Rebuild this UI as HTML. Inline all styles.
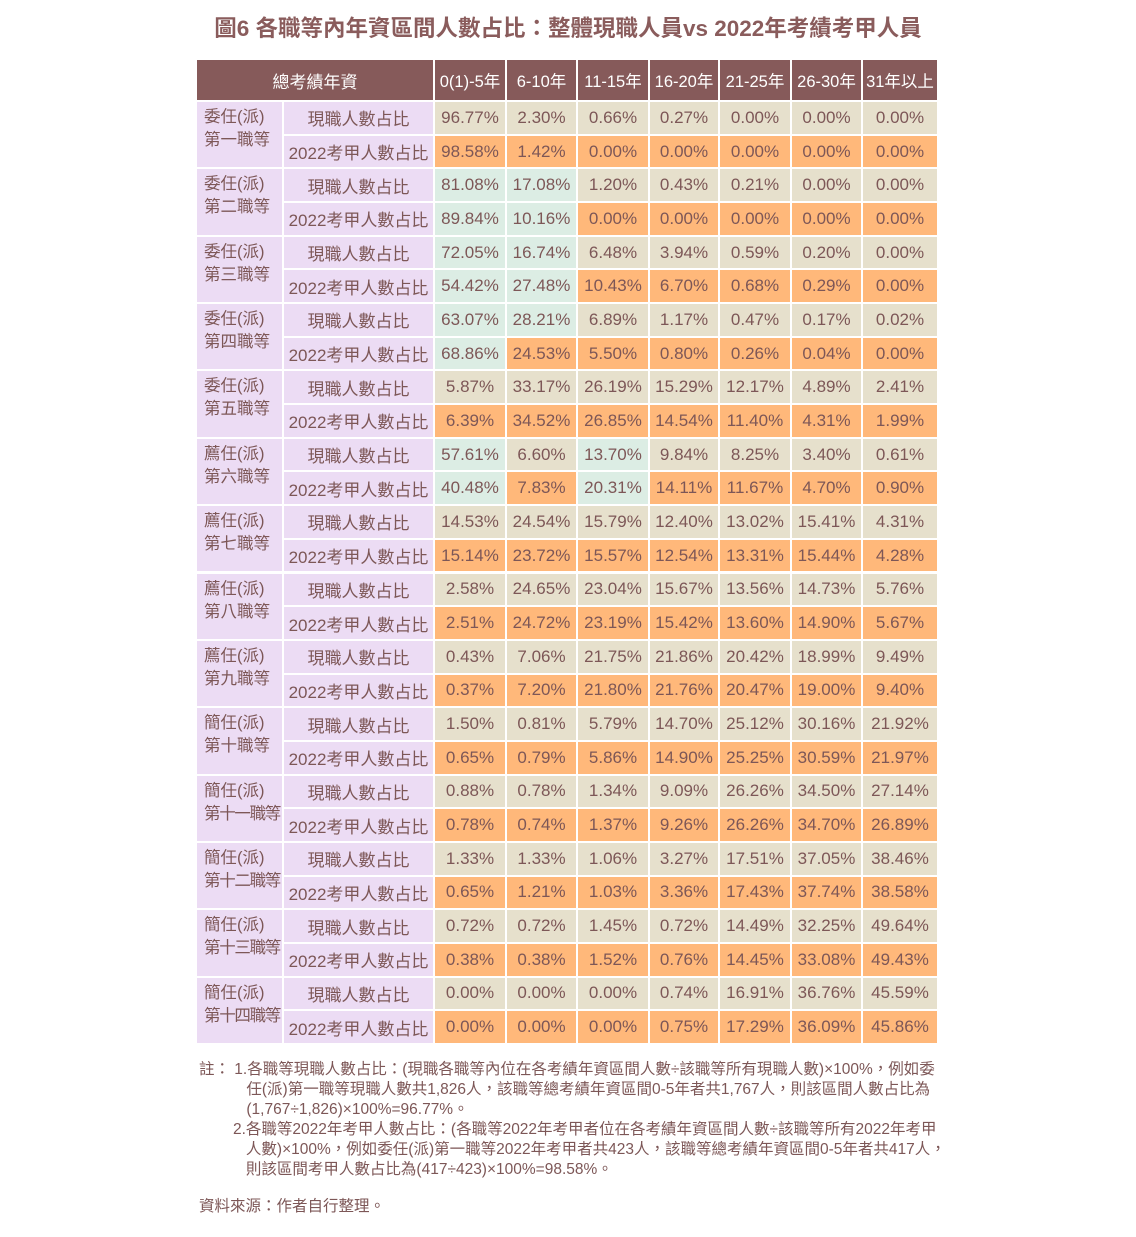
<!DOCTYPE html>
<html><head><meta charset="utf-8">
<style>
body{margin:0;width:1136px;height:1237px;background:#fff;position:relative;font-family:"Liberation Sans","Noto Sans CJK TC",sans-serif;color:#7d5757;overflow:hidden}
.c{position:absolute;box-sizing:border-box;display:flex;align-items:center;justify-content:center;font-size:17px;white-space:nowrap}
.g{display:block !important;overflow:hidden}
#title{position:absolute;left:0;width:1136px;top:11px;text-align:center;font-size:22.5px;font-weight:bold;color:#8a5c5c}
.note{position:absolute;font-size:15.5px;line-height:20px;white-space:nowrap;color:#7d5757}
</style></head><body>
<div id="title">圖6 各職等內年資區間人數占比：整體現職人員vs 2022年考績考甲人員</div>
<div id="tbl"></div>
<div class="note" style="left:199px;top:1060px">註：&nbsp;1.各職等現職人數占比：(現職各職等內位在各考績年資區間人數÷該職等所有現職人數)×100%，例如委<br>&nbsp;&nbsp;&nbsp;&nbsp;&nbsp;&nbsp;&nbsp;&nbsp;&nbsp;&nbsp;&nbsp;任(派)第一職等現職人數共1,826人，該職等總考績年資區間0-5年者共1,767人，則該區間人數占比為<br>&nbsp;&nbsp;&nbsp;&nbsp;&nbsp;&nbsp;&nbsp;&nbsp;&nbsp;&nbsp;&nbsp;(1,767÷1,826)×100%=96.77%。</div>
<div class="note" style="left:233px;top:1120px">2.各職等2022年考甲人數占比：(各職等2022年考甲者位在各考績年資區間人數÷該職等所有2022年考甲<br>&nbsp;&nbsp;&nbsp;人數)×100%，例如委任(派)第一職等2022年考甲者共423人，該職等總考績年資區間0-5年者共417人，<br>&nbsp;&nbsp;&nbsp;則該區間考甲人數占比為(417÷423)×100%=98.58%。</div>
<div class="note" style="left:199px;top:1197px">資料來源：作者自行整理。</div>
<script>
const headers=["0(1)-5年","6-10年","11-15年","16-20年","21-25年","26-30年","31年以上"];
const groups=[["委任(派)","第一職等"],["委任(派)","第二職等"],["委任(派)","第三職等"],["委任(派)","第四職等"],["委任(派)","第五職等"],["薦任(派)","第六職等"],["薦任(派)","第七職等"],["薦任(派)","第八職等"],["薦任(派)","第九職等"],["簡任(派)","第十職等"],["簡任(派)","第十一職等"],["簡任(派)","第十二職等"],["簡任(派)","第十三職等"],["簡任(派)","第十四職等"]];
const currentVals=[
[96.77,2.30,0.66,0.27,0.00,0.00,0.00],
[81.08,17.08,1.20,0.43,0.21,0.00,0.00],
[72.05,16.74,6.48,3.94,0.59,0.20,0.00],
[63.07,28.21,6.89,1.17,0.47,0.17,0.02],
[5.87,33.17,26.19,15.29,12.17,4.89,2.41],
[57.61,6.60,13.70,9.84,8.25,3.40,0.61],
[14.53,24.54,15.79,12.40,13.02,15.41,4.31],
[2.58,24.65,23.04,15.67,13.56,14.73,5.76],
[0.43,7.06,21.75,21.86,20.42,18.99,9.49],
[1.50,0.81,5.79,14.70,25.12,30.16,21.92],
[0.88,0.78,1.34,9.09,26.26,34.50,27.14],
[1.33,1.33,1.06,3.27,17.51,37.05,38.46],
[0.72,0.72,1.45,0.72,14.49,32.25,49.64],
[0.00,0.00,0.00,0.74,16.91,36.76,45.59]];
const examVals=[
[98.58,1.42,0.00,0.00,0.00,0.00,0.00],
[89.84,10.16,0.00,0.00,0.00,0.00,0.00],
[54.42,27.48,10.43,6.70,0.68,0.29,0.00],
[68.86,24.53,5.50,0.80,0.26,0.04,0.00],
[6.39,34.52,26.85,14.54,11.40,4.31,1.99],
[40.48,7.83,20.31,14.11,11.67,4.70,0.90],
[15.14,23.72,15.57,12.54,13.31,15.44,4.28],
[2.51,24.72,23.19,15.42,13.60,14.90,5.67],
[0.37,7.20,21.80,21.76,20.47,19.00,9.40],
[0.65,0.79,5.86,14.90,25.25,30.59,21.97],
[0.78,0.74,1.37,9.26,26.26,34.70,26.89],
[0.65,1.21,1.03,3.36,17.43,37.74,38.58],
[0.38,0.38,1.52,0.76,14.45,33.08,49.43],
[0.00,0.00,0.00,0.75,17.29,36.09,45.86]];
const mintCurrent=[[],[0,1],[0,1],[0,1],[],[0,2],[],[],[],[],[],[],[],[]];
const mintExam=[[],[0,1],[0,1],[0],[],[0,2],[],[],[],[],[],[],[],[]];
const tbl=document.getElementById('tbl');
const colX=[435,507,578,650,720,792,863,939];
const top0=102, rowH=(1045-102)/28;
function cell(x,y,w,h,bg,txt,extra){
 const d=document.createElement('div');d.className='c';
 d.style.cssText+=`left:${x}px;top:${y}px;width:${w}px;height:${h}px;background:${bg};border-right:2px solid #fff;border-bottom:2px solid #fff;`+(extra||'');
 d.innerHTML=txt;tbl.appendChild(d);return d;}
let h=cell(197,60,238,42,'#865a5a','總考績年資','color:#fff;');


headers.forEach((t,i)=>{const e=cell(colX[i],60,colX[i+1]-colX[i],42,'#865a5a',t,'color:#fff;font-size:16.5px;');

});
groups.forEach((g,gi)=>{
 const y=top0+gi*2*rowH;
 [[currentVals,'現職人數占比','#e6e0cc',mintCurrent],[examVals,'2022考甲人數占比','#ffb87a',mintExam]].forEach((r,ri)=>{
  const yy=y+ri*rowH;
  const le=cell(284,yy,151,rowH,'#ecdcf4',r[1]);
  
  
  r[0][gi].forEach((v,ci)=>{
   const bg=r[3][gi].includes(ci)?'#dcede4':r[2];
   const e=cell(colX[ci],yy,colX[ci+1]-colX[ci],rowH,bg,v.toFixed(2)+'%');
   
   
  });
 });
 const ls=g[1].length>4?'letter-spacing:-1.3px;':'';
 const ge=cell(197,y,87,rowH*2,'#ecdcf4',g[0]+'<br><span style="'+ls+'">'+g[1]+'</span>','padding:4px 0 0 7px;line-height:23px;font-size:16.5px;z-index:2;text-align:left;');
 ge.classList.add('g');
 
 
});
</script>
</body></html>
